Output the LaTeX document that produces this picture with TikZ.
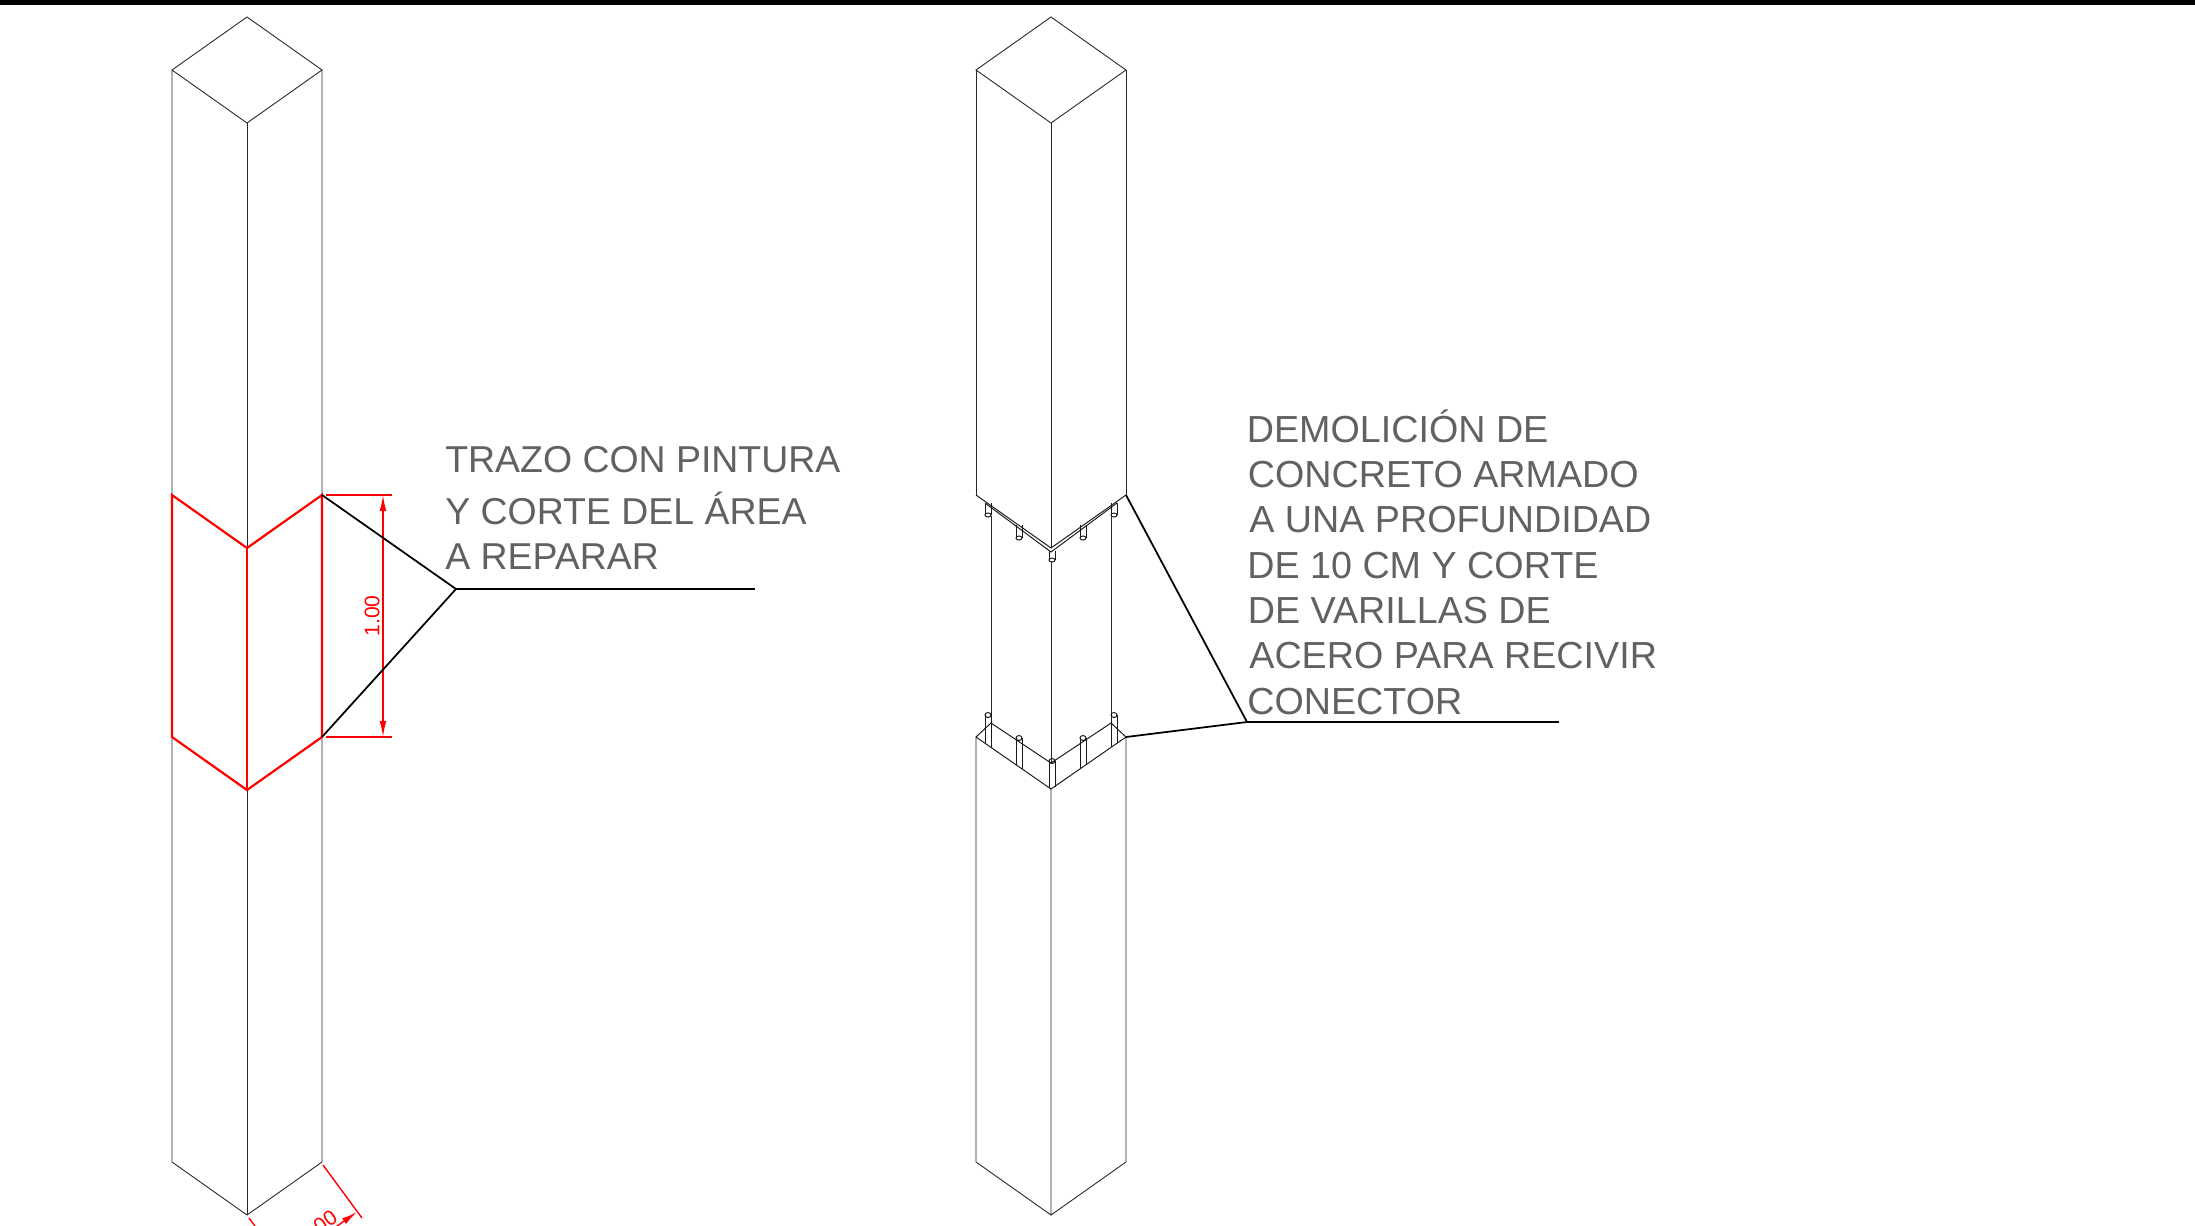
\documentclass[tikz,border=0pt]{standalone}
\usepackage{fontspec}
\setmainfont{Liberation Sans}
\usetikzlibrary{arrows.meta}
\definecolor{notegray}{gray}{0.38}
\tikzstyle{line} = [draw, line width=0.5pt, black!85]
\tikzstyle{leader} = [draw, line width=1pt, black]
\tikzstyle{redline} = [draw, line width=1.25pt, red]
\tikzstyle{dimline} = [draw, line width=0.8pt, red]
\tikzstyle{dimarrow} = [dimline, {Latex[length=9pt,width=3.8pt]}-{Latex[length=9pt,width=3.8pt]}]
\tikzstyle{bar} = [draw, line width=0.55pt, black!90]
\tikzstyle{note} = [anchor=base west, inner sep=0pt, text=notegray, font=\fontsize{21.3}{24}\selectfont]
\tikzstyle{widenote} = [note, font=\fontsize{21.45}{24}\selectfont]
\tikzstyle{dimtext} = [inner sep=0pt, text=red, font=\fontsize{12}{14}\selectfont]

\begin{document}
\begin{tikzpicture}[x=0.02cm,y=-0.02cm]
    \useasboundingbox (0,0) rectangle (2195,1225);
    \clip (0,0) rectangle (2195,1225);
    \fill[black] (0,0) rectangle (2195,5);

    % left column
    \coordinate (lt) at (247,17);
    \coordinate (ltl) at (172,70);
    \coordinate (ltr) at (322,70);
    \coordinate (ltc) at (247,123);
    \coordinate (lbl) at (172,1162);
    \coordinate (lbr) at (322,1162);
    \coordinate (lbc) at (247,1215);
    \coordinate (rul) at (172,495);
    \coordinate (ruc) at (247,548);
    \coordinate (rur) at (322,495);
    \coordinate (rdl) at (172,737);
    \coordinate (rdc) at (247,790);
    \coordinate (rdr) at (322,737);

    \path [line] (lt) -- (ltr) -- (ltc) -- (ltl) -- cycle;
    \path [line] (ltl) -- (rul) (rdl) -- (lbl) -- (lbc) -- (lbr) -- (rdr) (rur) -- (ltr);
    \path [line] (ltc) -- (ruc) (rdc) -- (lbc);

    \path [redline] (rul) -- (ruc) -- (rur) -- (rdr) -- (rdc) -- (rdl) -- cycle;
    \path [redline] (ruc) -- (rdc);

    % dimension 1.00
    \coordinate (dimtop) at (383,495);
    \coordinate (dimbot) at (383,737);
    \path [dimline] (326,495) -- (392,495);
    \path [dimline] (326,737) -- (392,737);
    \path [dimarrow] (dimtop) -- (dimbot);
    \node [dimtext, rotate=90] (dimlabel) at (372,616) {1.00};

    % dimension at the foot
    \coordinate (foota) at (323,1165);
    \coordinate (footb) at (362,1218);
    \coordinate (footc) at (249,1218);
    \coordinate (footd) at (288,1271);
    \path [dimline] (foota) -- (footb);
    \path [dimline] (footc) -- (footd);
    \path [dimarrow] (282,1265) -- (357,1212);
    \node [dimtext, rotate=35] (footlabel) at (318,1227) {1.00};

    % note of left column
    \coordinate (lknee) at (456,589);
    \coordinate (lend) at (755,589);
    \path [leader] (rur) -- (lknee);
    \path [leader] (rdr) -- (lknee);
    \path [leader] (lknee) -- (lend);
    \node [note] (ln1) at (445,472.4) {TRAZO CON PINTURA};
    \node [note] (ln2) at (445,524.4) {Y CORTE DEL ÁREA};
    \node [note] (ln3) at (445,569) {A REPARAR};

    % right column
    \coordinate (mt) at (1051,17);
    \coordinate (mtl) at (976,70);
    \coordinate (mtr) at (1126,70);
    \coordinate (mtc) at (1051,123);
    \coordinate (mul) at (976,495);
    \coordinate (muc) at (1051,548);
    \coordinate (mur) at (1126,495);
    \coordinate (mdl) at (976,737);
    \coordinate (mdc) at (1051,789);
    \coordinate (mdr) at (1126,737);
    \coordinate (mbl) at (976,1162);
    \coordinate (mbr) at (1126,1162);
    \coordinate (mbc) at (1051,1215);
    \coordinate (ibl) at (991,723);
    \coordinate (ibc) at (1051,763);
    \coordinate (ibr) at (1111,723);

    \path [line] (mt) -- (mtr) -- (mtc) -- (mtl) -- cycle;
    \path [line] (mtl) -- (mul) (mtr) -- (mur) (mtc) -- (muc);
    \path [line] (mdl) -- (mbl) -- (mbc) -- (mbr) -- (mdr) (mdc) -- (mbc);
    \path [line] (991,516) -- (ibl) (1111,516) -- (ibr) (1051,562) -- (ibc);

    % broken edge, upper
    \path [bar] (mul) -- (muc) -- (mur);
    \path [bar] (985,503) -- (1051,552) -- (1117,503);
    \foreach \x/\yt/\yb in {988/503/515,1019/525/538,1052/551/560,1083/525/538,1114/503/515}
    {
      \path [bar] (\x-3,\yt) -- (\x-3,\yb) (\x+3,\yt) -- (\x+3,\yb);
      \path [bar] (\x,\yb) ellipse (3 and 2);
    }

    % broken edge, lower
    \path [bar] (mdl) -- (mdc) -- (mdr) -- (ibr) -- (ibc) -- (ibl) -- cycle;
    \foreach \x/\yt/\yl/\yr in {988/715/743/747,1019/738/765/769,1052/761/788/787,1083/738/769/765,1114/715/747/743}
    {
      \path [bar] (\x-3,\yt) -- (\x-3,\yl) (\x+3,\yt) -- (\x+3,\yr);
      \path [bar] (\x,\yt) ellipse (3 and 2.5);
    }

    % note of right column
    \coordinate (rknee) at (1247,722);
    \coordinate (rend) at (1559,722);
    \path [leader] (mur) -- (rknee);
    \path [leader] (mdr) -- (rknee);
    \path [leader] (rknee) -- (rend);
    \node [widenote] (rn1) at (1246.5,442.4) {DEMOLICIÓN DE};
    \node [widenote] (rn2) at (1247.5,487.4) {CONCRETO ARMADO};
    \node [widenote] (rn3) at (1249,532.6) {A UNA PROFUNDIDAD};
    \node [widenote] (rn4) at (1247,578.4) {DE 10 CM Y CORTE};
    \node [widenote] (rn5) at (1247.5,623.4) {DE VARILLAS DE};
    \node [widenote] (rn6) at (1249,668.4) {ACERO PARA RECIVIR};
    \node [widenote] (rn7) at (1247,714.4) {CONECTOR};
\end{tikzpicture}
\end{document}
